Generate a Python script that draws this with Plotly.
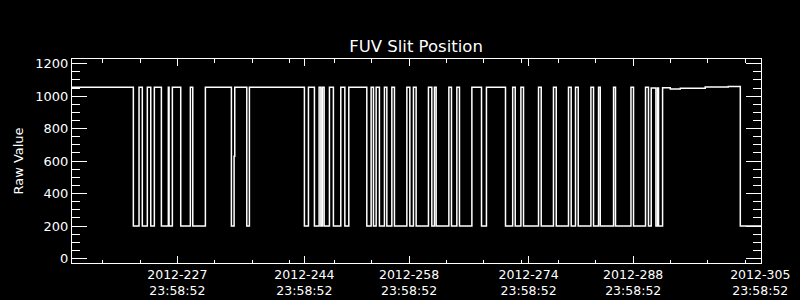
import plotly.graph_objects as go

# ---- data (day-of-year 2012, fractional) ----
seg_start = [213.90, 222.11, 222.87, 223.31, 223.98, 224.44, 224.92, 225.86, 226.79, 226.89,
             227.33, 228.45, 229.74, 230.06, 231.75, 235.23, 235.59, 235.68, 237.29, 237.64,
             245.00, 245.54, 246.34, 246.97, 247.20, 247.41, 247.64, 248.35, 248.88, 249.87,
             250.41, 250.94, 253.35, 253.93, 254.24, 254.60, 255.04, 255.71, 256.03, 256.70,
             257.05, 258.71, 259.11, 259.59, 259.95, 261.60, 262.05, 262.40, 262.63, 264.33,
             264.68, 265.40, 265.75, 267.41, 268.70, 269.36, 271.91, 272.87, 273.21, 273.97,
             274.32, 276.33, 276.69, 278.33, 278.70, 280.34, 280.70, 281.28, 281.64, 283.34,
             283.69, 284.36, 284.59, 286.37, 286.63, 288.70, 289.04, 290.65, 291.04, 291.41,
             292.04, 292.26, 292.39, 292.93, 293.96, 295.30, 298.64, 301.72, 303.33, 306.10]
seg_value = [1055, 200, 1055, 200, 1055, 200, 1055, 200, 1055, 200,
             1055, 200, 1055, 200, 1055, 200, 630, 1055, 200, 1055,
             200, 1055, 200, 1055, 200, 1055, 200, 1055, 200, 1055,
             200, 1055, 200, 1055, 200, 1055, 200, 1055, 200, 1055,
             200, 1055, 200, 1055, 200, 1055, 200, 1055, 200, 1055,
             200, 1055, 200, 1055, 200, 1055, 200, 1055, 200, 1055,
             200, 1055, 200, 1055, 200, 1055, 200, 1055, 200, 1055,
             200, 1055, 200, 1055, 200, 1055, 200, 1055, 200, 1050,
             200, 1050, 200, 1052, 1044, 1048, 1056, 1060, 200, 200]

# tick labels (day of year at 23:58:52)
tick_days = [227, 244, 258, 274, 288, 305]
tick_labels = ["2012-227<br>23:58:52", "2012-244<br>23:58:52", "2012-258<br>23:58:52",
               "2012-274<br>23:58:52", "2012-288<br>23:58:52", "2012-305<br>23:58:52"]
minor_days = [217, 222, 227, 232, 237, 242, 248, 253, 258, 263, 268, 273,
              278, 283, 288, 293, 298, 303]
time_of_day = (23 * 3600 + 58 * 60 + 52) / 86400.0

x_range = [213.90, 306.10]
y_range = [-28, 1229]

FONT = "DejaVu Sans"

fig = go.Figure()
fig.add_trace(go.Scatter(x=seg_start, y=seg_value, mode="lines",
                         line=dict(color="white", width=1.5, shape="hv"),
                         showlegend=False, hoverinfo="skip"))

fig.update_layout(
    width=800, height=300,
    paper_bgcolor="black", plot_bgcolor="black",
    margin=dict(l=72, r=39, t=59, b=37, autoexpand=False),
    font=dict(family=FONT, color="white", size=13),
    title=dict(text="FUV Slit Position", x=0.52, xanchor="center",
               y=1 - 46 / 300, yanchor="middle",
               font=dict(family=FONT, size=16.5, color="white")),
)
fig.update_xaxes(
    range=x_range, showgrid=False, zeroline=False, automargin=False,
    showline=True, linecolor="white", linewidth=1, mirror="ticks",
    ticks="inside", ticklen=7, tickwidth=1, tickcolor="white",
    tickmode="array", tickvals=[d + time_of_day for d in tick_days], ticktext=tick_labels,
    tickfont=dict(family=FONT, size=12.5, color="white"),
    minor=dict(tickmode="array", tickvals=[d + time_of_day for d in minor_days],
               ticks="inside", ticklen=3.5, tickwidth=1, tickcolor="white", showgrid=False),
)
fig.update_yaxes(
    range=y_range, showgrid=False, zeroline=False, automargin=False,
    showline=True, linecolor="white", linewidth=1, mirror="ticks",
    ticks="inside", ticklen=15, tickwidth=1, tickcolor="white",
    tickmode="linear", tick0=0, dtick=200,
    tickfont=dict(family=FONT, size=13, color="white"),
    minor=dict(dtick=50, ticks="inside", ticklen=8, tickwidth=1, tickcolor="white", showgrid=False),
    title=dict(text="Raw Value", standoff=8, font=dict(family=FONT, size=13, color="white")),
)

fig.write_html("out.html")
